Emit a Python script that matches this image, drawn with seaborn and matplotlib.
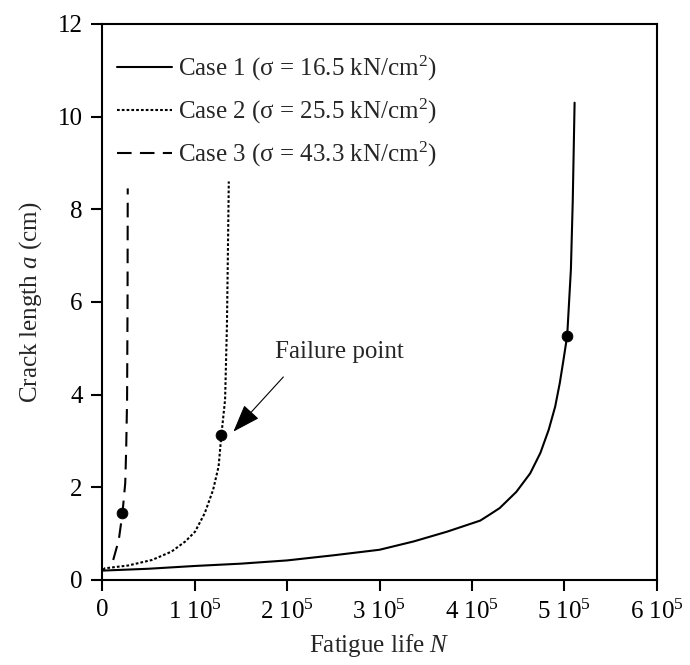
import numpy as np
import pandas as pd
import seaborn as sns
import matplotlib.pyplot as plt

# fatigue life N (cycles) and crack length a (cm)
case1_n = [0, 0.5e5, 1.0e5, 1.5e5, 2.0e5, 2.5e5, 3.0e5, 3.37e5, 3.73e5, 4.09e5, 4.2e5,
           4.3e5, 4.48e5, 4.63e5, 4.74e5, 4.83e5, 4.9e5, 4.95e5, 4.99e5, 5.03e5,
           5.07e5, 5.09e5, 5.11e5]
case1_a = [0.2, 0.24, 0.3, 0.35, 0.42, 0.53, 0.65, 0.83, 1.04, 1.28, 1.42,
           1.55, 1.9, 2.3, 2.74, 3.24, 3.74, 4.25, 4.75, 5.27,
           6.7, 8.17, 10.3]

case2_n = [0.01e5, 0.03e5, 0.28e5, 0.54e5, 0.75e5, 0.9e5, 1.005e5, 1.11e5, 1.2e5,
           1.26e5, 1.29e5, 1.33e5, 1.35e5, 1.36e5, 1.37e5]
case2_a = [0.22, 0.25, 0.31, 0.43, 0.61, 0.83, 1.04, 1.44, 1.94,
           2.45, 3.13, 3.89, 5.5, 7.0, 8.6]

case3_n = [0.12e5, 0.18e5, 0.22e5, 0.25e5, 0.26e5, 0.27e5, 0.275e5, 0.277e5]
case3_a = [0.43, 0.86, 1.44, 2.09, 2.8, 3.9, 6.0, 8.45]

fail_n = [5.03e5, 1.29e5, 0.22e5]
fail_a = [5.27, 3.13, 1.44]

labels = ['Case 1 (σ = 16.5 kN/cm$^2$)',
          'Case 2 (σ = 25.5 kN/cm$^2$)',
          'Case 3 (σ = 43.3 kN/cm$^2$)']
xticks = [0, 1e5, 2e5, 3e5, 4e5, 5e5, 6e5]
xticklabels = ['0', '1 10$^5$', '2 10$^5$', '3 10$^5$', '4 10$^5$', '5 10$^5$', '6 10$^5$']

sns.set_theme(style='ticks')
plt.rcParams['font.family'] = ['Liberation Serif', 'DejaVu Serif']
plt.rcParams['mathtext.fontset'] = 'custom'
plt.rcParams['mathtext.rm'] = 'Liberation Serif'
plt.rcParams['mathtext.it'] = 'Liberation Serif:italic'

fig = plt.figure(figsize=(6.9, 6.65), dpi=100)
ax = fig.add_axes([0.148, 0.128, 0.804, 0.836])

dash_styles = [None, (1.3, 1.0), (7, 4)]
data = [(case1_n, case1_a), (case2_n, case2_a), (case3_n, case3_a)]
for (n, a), lab, dsh in zip(data, labels, dash_styles):
    df = pd.DataFrame({'N': n, 'a': a})
    sns.lineplot(data=df, x='N', y='a', ax=ax, sort=False, estimator=None,
                 color='black', lw=1.5, label=lab)
    if dsh is not None:
        ax.lines[-1].set_dashes(dsh)

sns.scatterplot(x=fail_n, y=fail_a, ax=ax, color='black', s=60,
                edgecolor='black', zorder=5, legend=False)

ax.annotate('', xy=(1.42e5, 3.2), xytext=(1.96e5, 4.38),
            arrowprops=dict(arrowstyle='-|>,head_length=0.7,head_width=0.25',
                            color='black', lw=0.8,
                            mutation_scale=25, shrinkA=0, shrinkB=0))
ax.text(1.87e5, 4.92, 'Failure point', fontsize=18, ha='left', va='center')

ax.set_xlim(0, 6e5)
ax.set_ylim(0, 12)
ax.set_xticks(xticks)
ax.set_xticklabels(xticklabels)
ax.set_yticks(range(0, 13, 2))
ax.tick_params(axis='both', direction='out', length=8, width=1.5,
               labelsize=18, colors='black', pad=6)
ax.tick_params(top=False, right=False)
for sp in ax.spines.values():
    sp.set_linewidth(1.5)
    sp.set_color('black')

ax.set_xlabel('Fatigue life $N$', fontsize=18, labelpad=6)
ax.set_ylabel('Crack length $a$ (cm)', fontsize=18, labelpad=10)

leg = ax.legend(loc='upper left', bbox_to_anchor=(0.027, 0.946), frameon=False,
                fontsize=18, handlelength=2.2, handletextpad=0.25,
                labelspacing=0.55, borderpad=0, borderaxespad=0)

fig.savefig('out.png', dpi=100)
